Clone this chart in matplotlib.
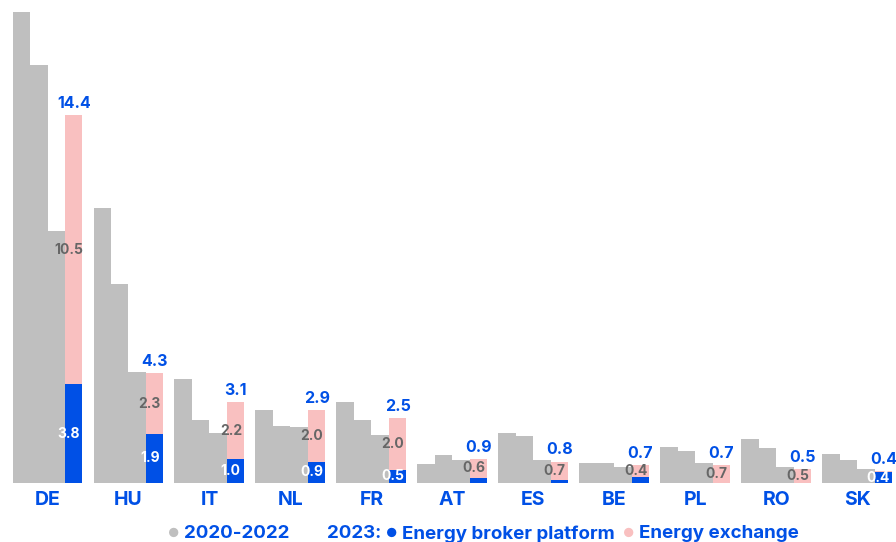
import matplotlib.pyplot as plt
import numpy as np

countries = ['DE', 'HU', 'IT', 'NL', 'FR', 'AT', 'ES', 'BE', 'PL', 'RO', 'SK']
y2020 = [18.44, 10.76, 4.09, 2.87, 3.16, 0.76, 1.94, 0.80, 1.41, 1.72, 1.14]
y2021 = [16.36, 7.78, 2.48, 2.22, 2.46, 1.08, 1.86, 0.78, 1.25, 1.37, 0.92]
y2022 = [9.87, 4.36, 1.97, 2.18, 1.87, 0.92, 0.92, 0.62, 0.80, 0.63, 0.55]
broker_2023 = [3.86, 1.93, 0.95, 0.84, 0.52, 0.20, 0.12, 0.25, 0.0, 0.0, 0.43]
exchange_2023 = [10.54, 2.36, 2.21, 2.03, 2.02, 0.75, 0.72, 0.46, 0.71, 0.55, 0.04]

total_labels = ['14.4', '4.3', '3.1', '2.9', '2.5', '0.9', '0.8', '0.7', '0.7', '0.5', '0.4']
exchange_labels = ['10.5', '2.3', '2.2', '2.0', '2.0', '0.6', '0.7', '0.4', '0.7', '0.5', None]
broker_labels = ['3.8', '1.9', '1.0', '0.9', '0.5', None, None, None, None, None, '0.4']

GREY = '#bfbfbf'
BLUE = '#0050e6'
PINK = '#f9c0c0'
TXT_GREY = '#666666'

plt.rcParams['font.family'] = ['Inter', 'DejaVu Sans']

fig = plt.figure(figsize=(8.96, 5.42), dpi=100)
ax = fig.add_axes([0, 59 / 542, 1, 483 / 542])

x = np.arange(len(countries))
w = 0.216
ax.bar(x - 1.5 * w, y2020, w, color=GREY)
ax.bar(x - 0.5 * w, y2021, w, color=GREY)
ax.bar(x + 0.5 * w, y2022, w, color=GREY)
ax.bar(x + 1.5 * w, broker_2023, w, color=BLUE)
ax.bar(x + 1.5 * w, exchange_2023, w, bottom=broker_2023, color=PINK)

for i in range(len(countries)):
    xc = x[i] + 1.5 * w
    b = broker_2023[i]
    e = exchange_2023[i]
    ax.annotate(total_labels[i], (xc, b + e), xytext=(0, 3), textcoords='offset points',
                ha='center', va='bottom', color=BLUE, fontsize=11.5, fontweight='bold')
    if exchange_labels[i]:
        ax.text(xc - 0.06, b + e / 2, exchange_labels[i], ha='center', va='center',
                color=TXT_GREY, fontsize=10, fontweight='bold')
    if broker_labels[i]:
        ax.text(xc - 0.06, b / 2, broker_labels[i], ha='center', va='center',
                color='white', fontsize=10, fontweight='bold')

ax.set_xlim(-0.587, 10.48)
ax.set_ylim(0, 18.92)
ax.set_xticks(x)
ax.set_xticklabels(countries, color=BLUE, fontsize=14, fontweight='bold')
ax.tick_params(axis='x', length=0, pad=6)
ax.set_yticks([])
for s in ax.spines.values():
    s.set_visible(False)

# legend row
ly = 8 / 542
fs = 13.5
fig.text(174 / 896, ly, '●', color=GREY, fontsize=9, ha='center', va='center')
fig.text(184 / 896, ly, '2020-2022', color=BLUE, fontsize=fs, fontweight='bold', va='center')
fig.text(327 / 896, ly, '2023:', color=BLUE, fontsize=fs, fontweight='bold', va='center')
fig.text(392 / 896, ly, '●', color=BLUE, fontsize=9, ha='center', va='center')
fig.text(402 / 896, ly, 'Energy broker platform', color=BLUE, fontsize=fs, fontweight='bold', va='center')
fig.text(629 / 896, ly, '●', color=PINK, fontsize=9, ha='center', va='center')
fig.text(639 / 896, ly, 'Energy exchange', color=BLUE, fontsize=fs, fontweight='bold', va='center')

fig.savefig('out.png', dpi=100)
